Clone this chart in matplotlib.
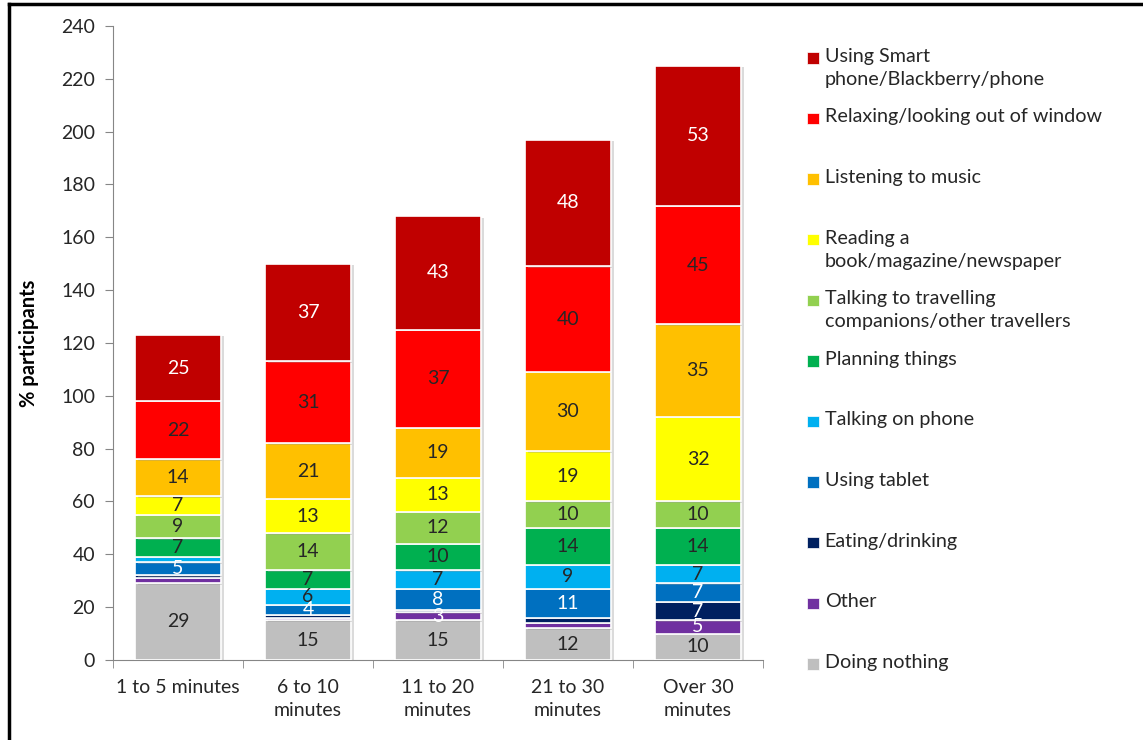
import matplotlib.pyplot as plt
import matplotlib.patheffects as pe
from matplotlib.patches import Rectangle
import numpy as np

plt.rcParams['font.family'] = ['Lato', 'DejaVu Sans']

categories = ["1 to 5 minutes", "6 to 10\nminutes", "11 to 20\nminutes",
              "21 to 30\nminutes", "Over 30\nminutes"]

# stacked from bottom to top
doing_nothing = [29, 15, 15, 12, 10]
other = [2, 1, 3, 2, 5]
eating = [1, 1, 1, 2, 7]
tablet = [5, 4, 8, 11, 7]
talking_phone = [2, 6, 7, 9, 7]
planning = [7, 7, 10, 14, 14]
talking_travel = [9, 14, 12, 10, 10]
reading = [7, 13, 13, 19, 32]
music = [14, 21, 19, 30, 35]
relaxing = [22, 31, 37, 40, 45]
smartphone = [25, 37, 43, 48, 53]

series = [
    ("Doing nothing", doing_nothing, "#bfbfbf", "#262626"),
    ("Other", other, "#7030a0", "white"),
    ("Eating/drinking", eating, "#002060", "white"),
    ("Using tablet", tablet, "#0070c0", "white"),
    ("Talking on phone", talking_phone, "#00b0f0", "#262626"),
    ("Planning things", planning, "#00b050", "#262626"),
    ("Talking to travelling\ncompanions/other travellers", talking_travel, "#92d050", "#262626"),
    ("Reading a\nbook/magazine/newspaper", reading, "#ffff00", "#262626"),
    ("Listening to music", music, "#ffc000", "#262626"),
    ("Relaxing/looking out of window", relaxing, "#ff0000", "#262626"),
    ("Using Smart\nphone/Blackberry/phone", smartphone, "#c00000", "white"),
]

fig = plt.figure(figsize=(11.43, 7.40), dpi=100)
ax = fig.add_axes([0.0989, 0.1081, 0.5686, 0.8568])

x = np.arange(len(categories))
bottom = np.zeros(len(categories))
shadow = [pe.SimplePatchShadow(offset=(2, -1), shadow_rgbFace="#999999", alpha=0.35), pe.Normal()]
for name, vals, color, tcol in series:
    vals = np.array(vals, dtype=float)
    bars = ax.bar(x, vals, bottom=bottom, width=0.66, color=color,
                  edgecolor="white", linewidth=1.2, zorder=3)
    for b in bars:
        b.set_path_effects(shadow)
    for xi, v, b0 in zip(x, vals, bottom):
        if v >= 3:
            ax.text(xi, b0 + v / 2, f"{int(v)}", ha="center", va="center",
                    fontsize=14, color=tcol, zorder=4)
    bottom += vals

ax.set_xlim(-0.5, len(categories) - 0.5)
ax.set_ylim(0, 240)
ax.set_yticks(range(0, 241, 20))
ax.set_xticks(x)
ax.set_xticklabels(categories, fontsize=14, color="#262626", linespacing=1.4)
ax.set_xticks(np.arange(-0.5, len(categories), 1.0), minor=True)
ax.tick_params(axis="x", which="major", length=0, pad=14)
ax.tick_params(axis="x", which="minor", length=6, color="#868686", direction="out")
ax.tick_params(axis="y", length=6, color="#868686", labelsize=14,
               labelcolor="#262626", pad=7)
for s in ["top", "right"]:
    ax.spines[s].set_visible(False)
for s in ["left", "bottom"]:
    ax.spines[s].set_color("#868686")
ax.set_ylabel("% participants", fontsize=14.5, fontweight="bold", color="black", labelpad=16)

# legend, drawn top to bottom
leg_x = 819 / 1143
y0 = 57
step = 60.6
for i, (name, vals, color, tcol) in enumerate(reversed(series)):
    yp = 1 - (y0 + i * step) / 740
    fig.patches.append(Rectangle((leg_x - 0.0105, yp - 0.009), 0.0105, 0.0155,
                                 transform=fig.transFigure, facecolor=color,
                                 edgecolor="white", linewidth=0.5))
    fig.text(leg_x + 0.005, yp + 0.0125, name, ha="left", va="top",
             fontsize=14.2, color="#262626", linespacing=1.45)

# outer frame
fig.add_artist(plt.Line2D([9 / 1143, 9 / 1143], [0, 1 - 4 / 740], color="black",
                          linewidth=2.5, transform=fig.transFigure))
fig.add_artist(plt.Line2D([9 / 1143, 1], [1 - 4 / 740, 1 - 4 / 740], color="black",
                          linewidth=2.5, transform=fig.transFigure))

fig.savefig("out.png", dpi=100)
